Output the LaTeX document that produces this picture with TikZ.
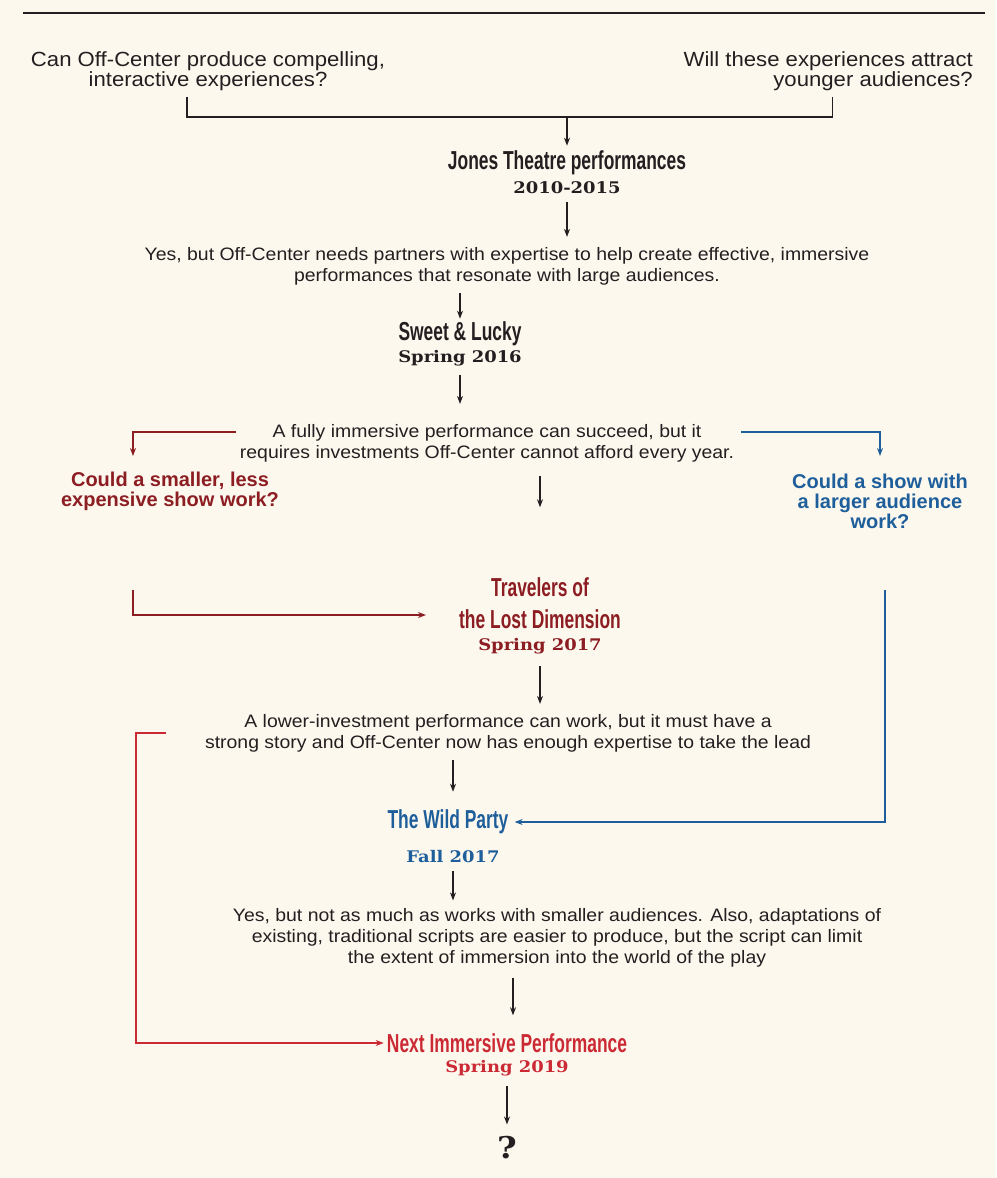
\documentclass[tikz,border=0pt]{standalone}
\usepackage{fontspec}
\setmainfont[FakeStretch=1.08]{Liberation Sans}
\newfontfamily\headfont[FakeStretch=0.67]{Liberation Sans}
\newfontfamily\askfont{Liberation Sans}
\newfontfamily\datefont[FakeStretch=1.12]{DejaVu Serif}
\usetikzlibrary{arrows.meta}
\definecolor{paper}{HTML}{FDF8EE}
\definecolor{ink}{HTML}{231F20}
\definecolor{trvred}{HTML}{8C1D22}
\definecolor{wildblue}{HTML}{1E5F9B}
\definecolor{nextred}{HTML}{CB2A35}
\tikzset{
  body/.style={align=center, inner sep=0pt, text=ink, font=\fontsize{18}{21}\selectfont},
  ask/.style={align=center, inner sep=0pt, font=\askfont\bfseries\fontsize{20}{20}\selectfont},
  title/.style={inner sep=0pt, align=center, font=\headfont\bfseries\fontsize{26}{32}\selectfont},
  year/.style={inner sep=0pt, font=\datefont\bfseries\fontsize{16}{18}\selectfont},
  arr/.style={draw=ink, line width=1.3pt, -{Stealth[length=8pt,width=6pt]}},
  link/.style={line width=1.3pt, -{Stealth[length=8pt,width=6pt]}}
}
\begin{document}
\begin{tikzpicture}[x=1pt, y=-1pt]
\fill[paper] (0,0) rectangle (996,1178);
\useasboundingbox (0,0) rectangle (996,1178);
\draw[ink, line width=1.6pt] (23,13) -- (985,13);

% questions
\node[body, font=\fontsize{20.5}{19}\selectfont] (q1) at (208,71) {Can Off-Center produce compelling,\\interactive experiences?};
\node[body, font=\fontsize{20.5}{19}\selectfont, align=right, anchor=east] (q2) at (973,71) {Will these experiences attract\\younger audiences?};
\coordinate (join) at (567,117);
\draw[ink, line width=1.3pt] ([xshift=-21pt,yshift=-6pt]q1.south) |- (join) -| ([xshift=4pt,yshift=-6pt]q2.south);

% Jones
\node[title, text=ink] (jones) at (567,163) {Jones Theatre performances};
\node[year, text=ink] (jonesyr) at (567,188) {2010-2015};
\draw[arr, shorten >=5pt] (join) -- (join |- jones.north);

\node[body] (ans1) at (507,266) {Yes, but Off-Center needs partners with expertise to help create effective, immersive\\performances that resonate with large audiences.};
\draw[arr, shorten <=8pt, shorten >=10pt] (jonesyr.south) -- (jonesyr.south |- ans1.north);

% Sweet & Lucky
\node[title, text=ink] (sweet) at (460,334) {Sweet \& Lucky};
\node[year, text=ink] (sweetyr) at (460,358) {Spring 2016};
\draw[arr, shorten <=8pt, shorten >=3pt] (sweet.north |- ans1.south) -- (sweet.north);

\node[body] (ans2) at (487,443) {A fully immersive performance can succeed, but it\\requires investments Off-Center cannot afford every year.};
\draw[arr, shorten <=9pt, shorten >=20pt] (sweetyr.south) -- (sweetyr.south |- ans2.north);

% branches
\node[ask, text=trvred] (smaller) at (170,491) {Could a smaller, less\\expensive show work?};
\node[ask, text=wildblue] (larger) at (880,501) {Could a show with\\a larger audience\\work?};
\coordinate (rdrop) at (133,456);
\coordinate (bdrop) at (880,456);
\draw[link, trvred] ([xshift=-4pt,yshift=11pt]ans2.west) -| (rdrop);
\draw[link, wildblue] ([xshift=7pt,yshift=11pt]ans2.east) -| (bdrop);

% Travelers
\node[title, text=trvred] (travel) at (540,603) {Travelers of\\the Lost Dimension};
\node[year, text=trvred] (travelyr) at (540,646) {Spring 2017};
\draw[arr, shorten <=14pt, shorten >=70pt] (travel.north |- ans2.south) -- (travel.north);
\coordinate (rstart) at (133,590);
\draw[link, trvred, shorten >=33pt] (rstart) |- ([yshift=-12pt]travel.west);

\node[body] (ans3) at (508,733) {A lower-investment performance can work, but it must have a\\strong story and Off-Center now has enough expertise to take the lead};
\draw[arr, shorten <=12pt, shorten >=10pt] (travelyr.south) -- (travelyr.south |- ans3.north);

% Wild Party
\node[title, text=wildblue] (wild) at (448,822) {The Wild Party};
\node[year, text=wildblue] (wildyr) at (453,857) {Fall 2017};
\draw[arr, shorten <=8pt, shorten >=18pt] (wildyr.north |- ans3.south) -- (wildyr.north |- wild.north);
\coordinate (bstart) at (885,590);
\draw[link, wildblue, shorten >=6pt] (bstart) |- (wild.east);

\node[body] (ans4) at (557,938) {Yes, but not as much as works with smaller audiences. Also, adaptations of\\existing, traditional scripts are easier to produce, but the script can limit\\the extent of immersion into the world of the play};
\draw[arr, shorten <=8pt, shorten >=8pt] (wildyr.south) -- (wildyr.south |- ans4.north);

% Next
\node[title, text=nextred] (next) at (507,1043) {Next Immersive Performance};
\node[year, text=nextred] (nextyr) at (507,1068) {Spring 2019};
\draw[arr, shorten <=10pt, shorten >=18pt] (ans4.south -| 513,0) -- (next.north -| 513,0);
\draw[link, nextred, shorten >=3pt] ([xshift=-39pt]ans3.west) -- ++(-30,0) |- (next.west);

\node[inner sep=0pt, text=ink, font=\datefont\bfseries\fontsize{30}{30}\selectfont] (qmark) at (507,1148) {?};
\draw[arr, shorten <=10pt, shorten >=12pt] (nextyr.south) -- (nextyr.south |- qmark.north);
\end{tikzpicture}
\end{document}
